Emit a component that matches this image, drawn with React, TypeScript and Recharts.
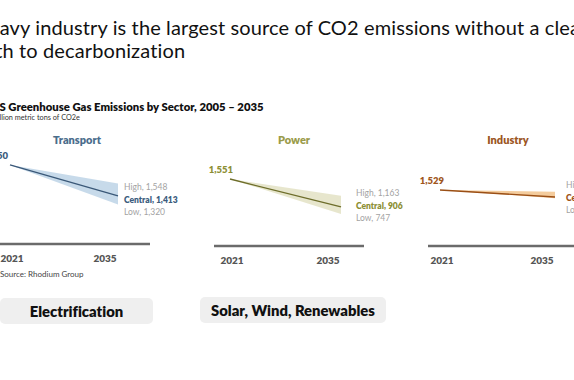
import React from "react";
import { ComposedChart, Area, Line, XAxis, YAxis } from "recharts";

const years = [2021, 2035];
const sectors = ["Transport", "Power", "Industry"];
const centralValues = [
  [1750, 1413],
  [1551, 906],
  [1529, 1402],
];
const highValues = [
  [1750, 1548],
  [1551, 1163],
  [1529, 1496],
];
const lowValues = [
  [1750, 1320],
  [1551, 747],
  [1529, 1381],
];
const actions = ["Electrification", "Solar, Wind, Renewables"];

const FONT = "Lato, 'Noto Sans', sans-serif";

const panels = [
  { line: "#3a5878", band: "#bdd4e6", title: "#4b6d8c", label: "#3c5d7e", left: -6, width: 156, padL: 16, padR: 32, axisY: 244, domain: [891, 2130], sx: -2, dx: 6, dy: 4 },
  { line: "#6d6d2a", band: "#e3e2c4", title: "#9a9b4a", label: "#8d8f35", left: 214, width: 150, padL: 16, padR: 23, axisY: 246, domain: [7, 2680], sx: 3, dx: 15, dy: -1 },
  { line: "#9a4f16", band: "#f2c38c", title: "#9c571f", label: "#a0561c", left: 428, width: 150, padL: 12, padR: 23, axisY: 246, domain: [511, 2620], sx: 4, dx: 11, dy: 1 },
];

const fmt = (v: number) => v.toLocaleString("en-US");

const YearTick = (props: any) => {
  const { x, y, payload } = props;
  const shift = payload.value === years[0] ? 2 : -13;
  return (
    <text x={x + shift} y={y + 10} textAnchor="middle" fontFamily={FONT} fontWeight={800} fontSize={10} fill="#555">
      {payload.value}
    </text>
  );
};

function Panel({ i }: { i: number }) {
  const p = panels[i];
  const data = years.map((year, k) => ({
    year,
    central: centralValues[i][k],
    band: [lowValues[i][k], highValues[i][k]],
  }));
  const ML = 30;
  const MR = 90;
  const top = 130;

  const renderLabel = (props: any) => {
    const { x, y, index } = props;
    if (index === 0) {
      return (
        <text x={x + p.sx} y={y - 6} textAnchor="end" fontFamily={FONT} fontWeight={800} fontSize={9.5} fill={p.label}>
          {fmt(centralValues[i][0])}
        </text>
      );
    }
    const lx = x + p.dx;
    const cy = y + p.dy;
    return (
      <g fontFamily={FONT} fontSize={8.5}>
        <text x={lx} y={cy - 12.5 + 3} fill="#a3a3a3">{`High, ${fmt(highValues[i][1])}`}</text>
        <text x={lx} y={cy + 3} fill={p.label} fontWeight={800}>{`Central, ${fmt(centralValues[i][1])}`}</text>
        <text x={lx} y={cy + 12.5 + 3} fill="#a3a3a3">{`Low, ${fmt(lowValues[i][1])}`}</text>
      </g>
    );
  };

  return (
    <>
      <div
        style={{
          position: "absolute",
          left: p.left + p.width / 2 + 5 - 60,
          width: 120,
          top: 133,
          textAlign: "center",
          fontFamily: FONT,
          fontWeight: 800,
          fontSize: 11,
          color: p.title,
        }}
      >
        {sectors[i]}
      </div>
      <div style={{ position: "absolute", left: p.left - ML, top }}>
        <ComposedChart
          width={p.width + ML + MR}
          height={p.axisY - top + 30}
          data={data}
          margin={{ top: 0, right: MR, left: ML, bottom: 0 }}
        >
          <XAxis
            dataKey="year"
            type="number"
            domain={[years[0], years[1]]}
            ticks={years}
            padding={{ left: p.padL, right: p.padR }}
            axisLine={{ stroke: "#6b6b6b", strokeWidth: 2.5 }}
            tickLine={false}
            height={30}
            tick={<YearTick />}
          />
          <YAxis hide domain={p.domain} allowDataOverflow />
          <Area
            type="linear"
            dataKey="band"
            stroke="none"
            fill={p.band}
            fillOpacity={0.85}
            isAnimationActive={false}
          />
          <Line
            type="linear"
            dataKey="central"
            stroke={p.line}
            strokeWidth={1.3}
            dot={false}
            label={renderLabel}
            isAnimationActive={false}
          />
        </ComposedChart>
      </div>
    </>
  );
}

const buttonStyle: React.CSSProperties = {
  position: "absolute",
  height: 26,
  borderRadius: 5,
  background: "#efefef",
  display: "flex",
  alignItems: "center",
  justifyContent: "center",
  fontWeight: 800,
  fontSize: 14.8,
  color: "#111",
  whiteSpace: "nowrap",
};

export default function App() {
  return (
    <div
      style={{
        position: "fixed",
        left: 0,
        top: 0,
        width: 574,
        height: 380,
        overflow: "hidden",
        background: "#fff",
        fontFamily: FONT,
        fontVariantLigatures: "none",
      }}
    >
      <div style={{ position: "absolute", left: -26, top: 16, fontSize: 20, letterSpacing: 0.12, lineHeight: "23px", color: "#111", whiteSpace: "nowrap" }}>
        Heavy industry is the largest source of CO2 emissions without a clear
        <br />
        path to decarbonization
      </div>
      <div style={{ position: "absolute", left: -9, top: 100, fontSize: 11.3, fontWeight: 800, color: "#111", whiteSpace: "nowrap" }}>
        US Greenhouse Gas Emissions by Sector, 2005 – 2035
      </div>
      <div style={{ position: "absolute", left: -9, top: 113, fontSize: 7.3, color: "#333", whiteSpace: "nowrap" }}>
        Million metric tons of CO2e
      </div>
      {sectors.map((_, i) => (
        <Panel key={i} i={i} />
      ))}
      <div style={{ position: "absolute", left: 0, top: 269, fontSize: 8, color: "#444", whiteSpace: "nowrap" }}>
        Source: Rhodium Group
      </div>
      <div style={{ ...buttonStyle, left: 0, top: 298, width: 153 }}>{actions[0]}</div>
      <div style={{ ...buttonStyle, left: 200, top: 297, width: 186 }}>{actions[1]}</div>
    </div>
  );
}
